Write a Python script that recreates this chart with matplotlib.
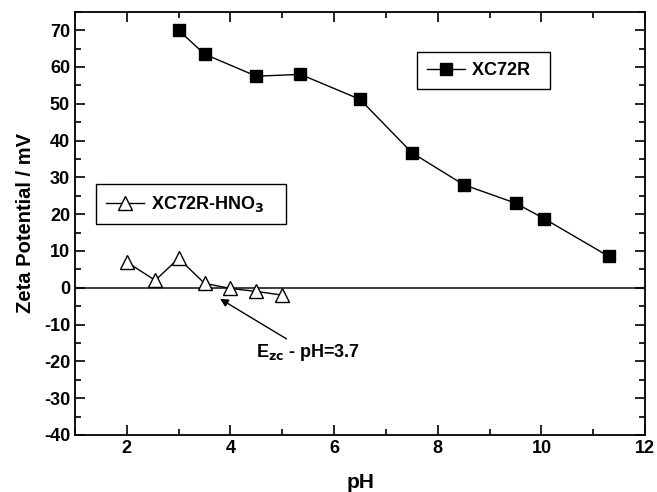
import matplotlib.pyplot as plt
from matplotlib.ticker import MultipleLocator

plt.rcParams['font.family'] = ['Liberation Sans', 'DejaVu Sans']
plt.rcParams['font.weight'] = 'bold'
plt.rcParams['axes.unicode_minus'] = False

# XC72R data
ph_xc = [3.0, 3.5, 4.5, 5.35, 6.5, 7.5, 8.5, 9.5, 10.05, 11.3]
zeta_xc = [70, 63.5, 57.5, 58, 51.2, 36.7, 28, 23, 18.8, 8.5]

# XC72R-HNO3 data
ph_hno3 = [2.0, 2.55, 3.0, 3.5, 4.0, 4.5, 5.0]
zeta_hno3 = [7, 2, 8, 1.2, -0.2, -1, -2]

fig = plt.figure(figsize=(6.57, 4.92), dpi=100)
ax = fig.add_axes([0.114, 0.116, 0.868, 0.86])

ax.axhline(0, color='#444444', lw=1.5, zorder=1)

l1, = ax.plot(ph_xc, zeta_xc, color='black', lw=1, marker='s', markersize=8,
              markerfacecolor='black', label='XC72R  ', zorder=3)
l2, = ax.plot(ph_hno3, zeta_hno3, color='black', lw=1, marker='^', markersize=9.5,
              markerfacecolor='white', markeredgecolor='black', markeredgewidth=1,
              label='XC72R-HNO$_\\mathbf{3}$   ', zorder=3)

ax.set_xlim(1, 12)
ax.set_ylim(-40, 75)
ax.xaxis.set_major_locator(MultipleLocator(2))
ax.xaxis.set_minor_locator(MultipleLocator(1))
ax.yaxis.set_major_locator(MultipleLocator(10))
ax.yaxis.set_minor_locator(MultipleLocator(5))
ax.tick_params(which='both', direction='in', top=True, right=True,
               labelsize=13, width=1.2)
ax.tick_params(which='major', length=7)
ax.tick_params(which='minor', length=4)
for s in ax.spines.values():
    s.set_linewidth(1.3)

ax.set_xlabel('pH', fontsize=15, fontweight='bold', labelpad=12)
ax.set_ylabel('Zeta Potential / mV', fontsize=14.5, fontweight='bold', labelpad=6)

leg_kw = dict(fancybox=False, edgecolor='black', fontsize=13, numpoints=1,
              handlelength=2.1, handletextpad=0.4, borderpad=0.55,
              borderaxespad=0, framealpha=1)
leg1 = ax.legend(handles=[l1], loc='upper left', bbox_to_anchor=(0.6, 0.904), **leg_kw)
leg1.get_frame().set_linewidth(1)
ax.add_artist(leg1)
leg2 = ax.legend(handles=[l2], loc='upper left', bbox_to_anchor=(0.037, 0.593), **leg_kw)
leg2.get_frame().set_linewidth(1)

ax.annotate('E$_{\\mathbf{zc}}$ - pH=3.7', xy=(3.8, -3), xytext=(4.5, -17.5),
            fontsize=13, fontweight='bold', va='center',
            arrowprops=dict(arrowstyle='-|>', color='black', lw=1,
                            mutation_scale=12, shrinkA=0, shrinkB=0))

fig.savefig('out.png', dpi=100)
